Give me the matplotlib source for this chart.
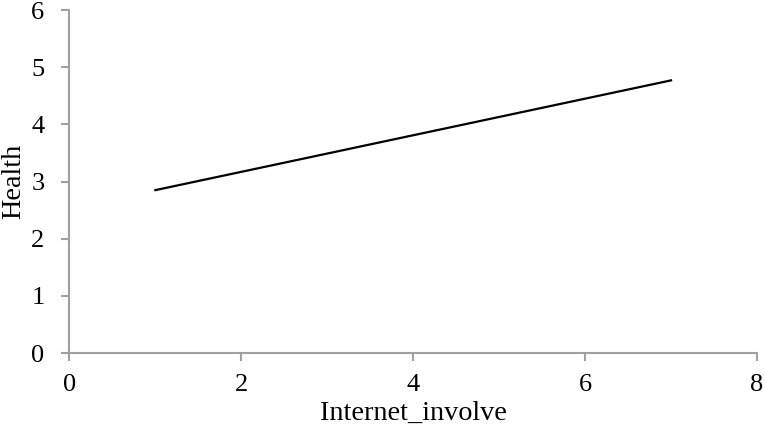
import matplotlib.pyplot as plt

# data
internet_involve = [1, 7]
health = [2.85, 4.77]

x_ticks = [0, 2, 4, 6, 8]
y_ticks = [0, 1, 2, 3, 4, 5, 6]

AXIS_COLOR = '#a0a0a0'

plt.rcParams['font.family'] = ['Liberation Serif', 'DejaVu Serif']

fig = plt.figure(figsize=(7.65, 4.38), dpi=100)
ax = fig.add_axes([0.0908, 0.194, 0.8987, 0.783])

ax.plot(internet_involve, health, color='black', linewidth=1.6)

ax.set_xlim(0, 8)
ax.set_ylim(0, 6)
ax.set_xticks(x_ticks)
ax.set_yticks(y_ticks)

for side in ['top', 'right']:
    ax.spines[side].set_visible(False)
for side in ['left', 'bottom']:
    ax.spines[side].set_color(AXIS_COLOR)
    ax.spines[side].set_linewidth(1.5)

ax.tick_params(axis='both', colors=AXIS_COLOR, length=6, width=1.5,
               labelsize=19, labelcolor='black', direction='out')
ax.tick_params(axis='x', pad=9)
ax.tick_params(axis='y', pad=12)

ax.set_xlabel('Internet_involve', fontsize=20.3)
ax.set_ylabel('Health', fontsize=20.3)
ax.xaxis.set_label_coords(0.5, -0.14)
ax.yaxis.set_label_coords(-0.063, 0.5)

fig.savefig('out.png', dpi=100)
